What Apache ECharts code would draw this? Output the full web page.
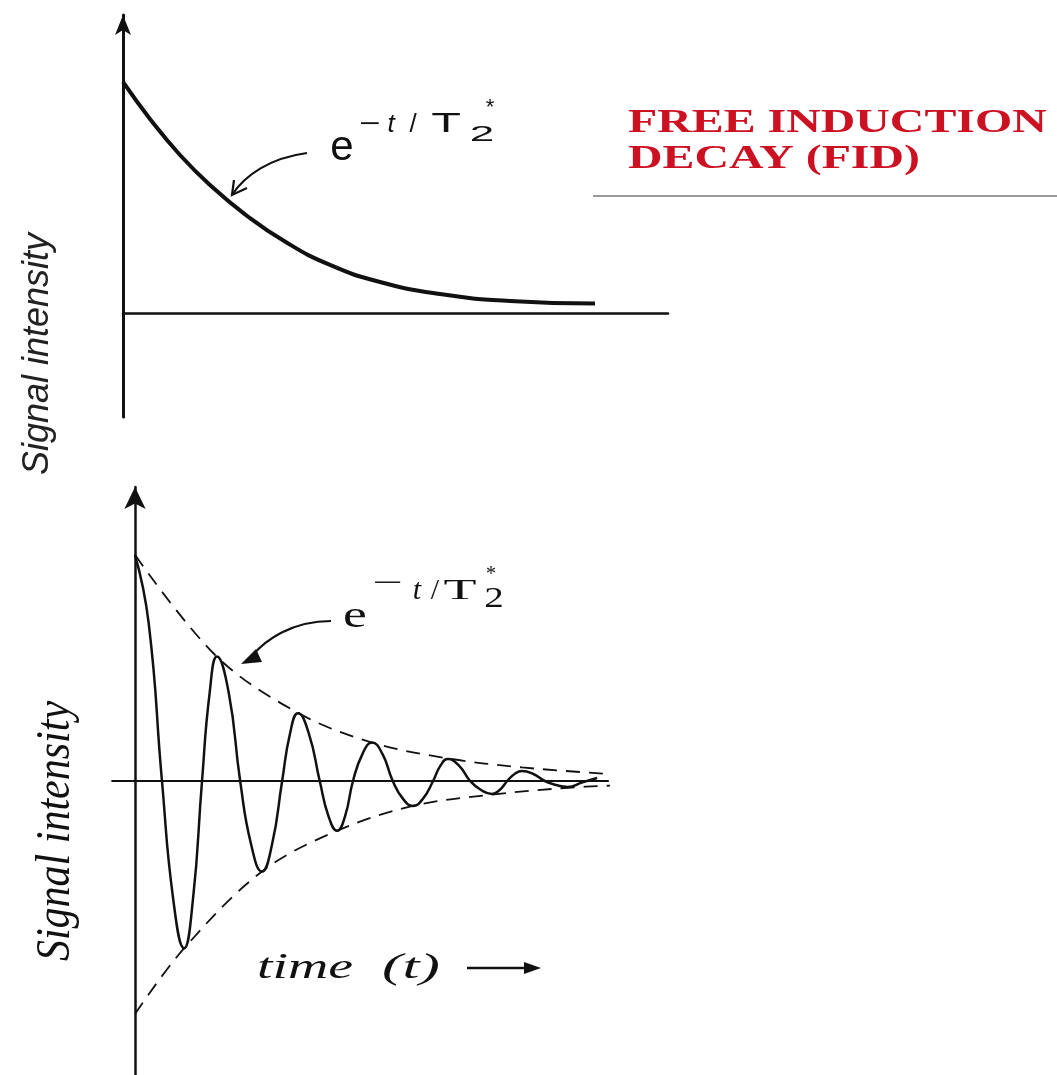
<!DOCTYPE html>
<html>
<head>
<meta charset="utf-8">
<script src="https://cdn.jsdelivr.net/npm/echarts@6/dist/echarts.min.js"></script>
<style>
html,body{margin:0;padding:0;background:#ffffff;}
#chart{width:1057px;height:1075px;}
</style>
</head>
<body>
<div id="chart"></div>
<script>
// ---- Data (time in arbitrary units, intensity relative to initial value) ----
// Top panel: monotonic decay e^{-t/T2*}
const decayT = [0, 4.95, 10.46, 15.96, 22.39, 29.72, 37.98, 47.16, 58.17, 71.01, 86.61];
const decayV = [1.000, 0.840, 0.684, 0.554, 0.427, 0.309, 0.208, 0.134, 0.082, 0.052, 0.041];

// Bottom panel: the oscillating FID
const fidT = [0, 2.5, 4.95, 7.0, 9.0, 10.65, 12.3, 13.7, 15.05, 17.2, 19.3, 21.3, 23.3, 25.15, 27.0,
              28.45, 29.9, 31.9, 33.9, 35.5, 37.1, 38.55, 40.0, 41.75, 43.5, 45.4, 47.3, 49.15, 51.0,
              52.85, 54.7, 56.05, 57.4, 59.45, 61.5, 63.5, 65.5, 66.9, 68.3, 69.65, 71.0, 73.1, 75.2,
              77.3, 79.4, 82.1, 84.8];
const fidV = [1.00, 0.70, 0, -0.52, -0.74, -0.52, 0, 0.39, 0.55, 0.39, 0, -0.28, -0.40, -0.28, 0,
              0.21, 0.30, 0.21, 0, -0.155, -0.22, -0.155, 0, 0.12, 0.17, 0.12, 0, -0.078, -0.11,
              -0.078, 0, 0.068, 0.097, 0.068, 0, -0.04, -0.057, -0.04, 0, 0.031, 0.044, 0.031, 0,
              -0.018, -0.026, -0.006, 0.013];

// Bottom panel: dashed envelopes
const upperT = [0, 15, 30, 43.5, 57.4, 71, 87.7];
const upperV = [1.00, 0.55, 0.30, 0.17, 0.10, 0.06, 0.03];
const lowerT = [0, 9, 23.3, 37.1, 51, 65.5, 79.4, 87.7];
const lowerV = [-1.03, -0.74, -0.40, -0.22, -0.11, -0.06, -0.03, -0.02];

// Text
const titleLines = ['FREE INDUCTION', 'DECAY (FID)'];
const yLabel = 'Signal intensity';
const xLabel = 'time';
const xLabelVar = '(t)';

const pairs = (t, v) => t.map((x, i) => [x, v[i]]);
const INK = '#111111';

function txt(text, x, y, font, o) {
  o = o || {};
  return {
    type: 'text', x: x, y: y, silent: true,
    rotation: o.rotation || 0,
    scaleX: o.sx || 1, scaleY: o.sy || 1,
    style: {
      text: text, font: font, fill: o.fill || INK,
      align: o.align || 'center', textAlign: o.align || 'center',
      verticalAlign: 'middle', textVerticalAlign: 'middle'
    }
  };
}

const chart = echarts.init(document.getElementById('chart'), null, {renderer: 'canvas'});

const hiddenAxisBits = {
  axisTick: {show: false}, axisLabel: {show: false}, splitLine: {show: false}
};

const option = {
  backgroundColor: '#ffffff',
  animation: false,
  grid: [
    {left: 123, width: 545, top: 15, height: 401.9},
    {left: 112.1, width: 495.95, top: 487, height: 590.2}
  ],
  xAxis: [
    Object.assign({type: 'value', gridIndex: 0, min: 0, max: 100,
      axisLine: {show: true, onZero: true, lineStyle: {color: INK, width: 2.5}}}, hiddenAxisBits),
    Object.assign({type: 'value', gridIndex: 1, min: -4.2, max: 86.8,
      axisLine: {show: true, onZero: true, lineStyle: {color: INK, width: 2}}}, hiddenAxisBits)
  ],
  yAxis: [
    Object.assign({type: 'value', gridIndex: 0, min: -0.45, max: 1.29,
      axisLine: {show: true, onZero: true, symbol: ['none', 'arrow'], symbolSize: [12, 20],
        lineStyle: {color: INK, width: 3}}}, hiddenAxisBits),
    Object.assign({type: 'value', gridIndex: 1, min: -1.3, max: 1.3,
      axisLine: {show: true, onZero: true, symbol: ['none', 'arrow'], symbolSize: [16, 22],
        lineStyle: {color: INK, width: 2.5}}}, hiddenAxisBits)
  ],
  series: [
    {name: 'decay', type: 'line', xAxisIndex: 0, yAxisIndex: 0, data: pairs(decayT, decayV),
      smooth: 0.5, showSymbol: false, silent: true,
      lineStyle: {color: INK, width: 4}},
    {name: 'FID', type: 'line', xAxisIndex: 1, yAxisIndex: 1, data: pairs(fidT, fidV),
      smooth: 0.5, showSymbol: false, silent: true,
      lineStyle: {color: INK, width: 2.5}},
    {name: 'upper envelope', type: 'line', xAxisIndex: 1, yAxisIndex: 1, data: pairs(upperT, upperV),
      smooth: 0.35, showSymbol: false, silent: true,
      lineStyle: {color: INK, width: 1.8, type: [14, 9]}},
    {name: 'lower envelope', type: 'line', xAxisIndex: 1, yAxisIndex: 1, data: pairs(lowerT, lowerV),
      smooth: 0.35, showSymbol: false, silent: true,
      lineStyle: {color: INK, width: 1.8, type: [14, 9]}}
  ],
  graphic: [
    // Title
    txt(titleLines[0], 628, 123, 'bold 33px "Liberation Serif", "Times New Roman", serif', {align: 'left', sx: 1.45, fill: '#cc1122'}),
    txt(titleLines[1], 628, 159, 'bold 33px "Liberation Serif", "Times New Roman", serif', {align: 'left', sx: 1.45, fill: '#cc1122'}),
    {type: 'line', silent: true, shape: {x1: 593, y1: 196, x2: 1057, y2: 196}, style: {stroke: '#9a9a9a', lineWidth: 2}},

    // Y labels
    txt(yLabel, 38, 354, 'italic 36px "Liberation Sans", "DejaVu Sans", sans-serif', {rotation: Math.PI / 2, fill: '#222'}),
    txt(yLabel, 56, 831, 'italic 42px "Liberation Serif", "Times New Roman", serif', {rotation: Math.PI / 2, sy: 1.14}),

    // Top annotation e^{-t/T2*}
    txt('e', 342, 148, '42px "Liberation Sans", sans-serif'),
    txt('\u2212', 370, 124.4, '26px "Liberation Sans", sans-serif', {sx: 1.4}),
    txt('t', 391, 124.4, 'italic 26px "Liberation Sans", sans-serif'),
    txt('/', 413, 124.4, '26px "Liberation Sans", sans-serif'),
    txt('T', 446, 124.4, '27px "Liberation Sans", sans-serif', {sx: 1.8}),
    txt('2', 482, 135, '22px "Liberation Sans", sans-serif', {sx: 2.0}),
    txt('*', 490, 108, '22px "Liberation Sans", sans-serif'),
    {type: 'bezierCurve', silent: true, shape: {x1: 307, y1: 153, x2: 232, y2: 195, cpx1: 270, cpy1: 158, cpx2: 245, cpy2: 175},
      style: {stroke: INK, lineWidth: 2.2, fill: null}},
    {type: 'polyline', silent: true, shape: {points: [[234, 180], [232, 195], [247, 188]]},
      style: {stroke: INK, lineWidth: 2.2, fill: null}},

    // Bottom annotation e^{-t/T2*}
    txt('e', 355, 617, '37px "Liberation Serif", serif', {sx: 1.45}),
    txt('\u2212', 388, 584, '30px "Liberation Serif", serif', {sx: 1.8}),
    txt('t', 417, 590.7, 'italic 30px "Liberation Serif", serif'),
    txt('/', 435, 590.7, '30px "Liberation Serif", serif'),
    txt('T', 460, 590.7, '30px "Liberation Serif", serif', {sx: 1.8}),
    txt('2', 494, 598.7, '30px "Liberation Serif", serif', {sx: 1.3}),
    txt('*', 491, 575, '20px "Liberation Serif", serif'),
    {type: 'bezierCurve', silent: true, shape: {x1: 331, y1: 621, x2: 252, y2: 656, cpx1: 292, cpy1: 621, cpx2: 265, cpy2: 640},
      style: {stroke: INK, lineWidth: 2.2, fill: null}},
    {type: 'polygon', silent: true, shape: {points: [[241, 664], [256, 649], [262, 662]]},
      style: {fill: INK}},

    // time (t) ->
    txt(xLabel, 257, 969, 'italic 36px "Liberation Serif", serif', {align: 'left', sx: 1.55}),
    txt(xLabelVar, 382, 969, 'italic 36px "Liberation Serif", serif', {align: 'left', sx: 1.7}),
    {type: 'line', silent: true, shape: {x1: 467, y1: 968, x2: 528, y2: 968}, style: {stroke: INK, lineWidth: 2.5}},
    {type: 'polygon', silent: true, shape: {points: [[541, 968], [524, 962], [524, 974]]}, style: {fill: INK}}
  ]
};

chart.setOption(option);
</script>
</body>
</html>
